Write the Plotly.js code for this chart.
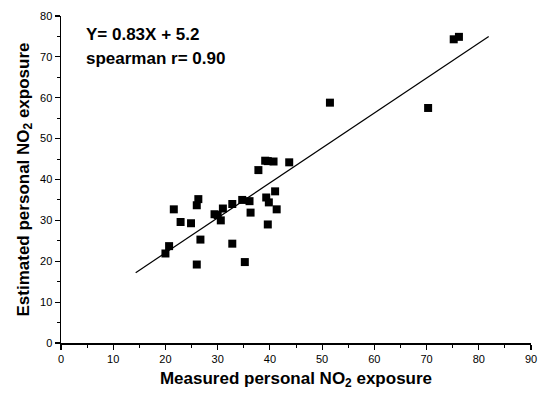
<!DOCTYPE html>
<html>
<head>
<meta charset="utf-8">
<script src="https://cdn.plot.ly/plotly-3.0.1.min.js"></script>
<style>html,body{margin:0;padding:0;background:#fff;}#chart{width:549px;height:394px;}</style>
</head>
<body>
<div id="chart"></div>
<script>
var measured = [20.0, 20.7, 21.6, 22.9, 24.9, 26.0, 26.3, 26.0, 26.7, 29.4, 30.0, 30.6, 31.0, 32.8, 32.8, 34.7, 36.1, 36.3, 35.2, 37.8, 39.1, 39.6, 40.7, 43.7, 39.3, 39.8, 39.6, 41.0, 41.3, 51.5, 70.3, 75.2, 76.2];
var estimated = [21.9, 23.7, 32.7, 29.6, 29.3, 33.7, 35.2, 19.2, 25.3, 31.5, 31.3, 30.0, 32.9, 34.0, 24.3, 35.0, 34.7, 31.9, 19.8, 42.3, 44.6, 44.5, 44.4, 44.2, 35.6, 34.4, 29.0, 37.1, 32.7, 58.8, 57.5, 74.3, 74.9];
var fitX = [14.3, 81.9];
var fitY = [17.2, 75.0];
var xTicks = [0, 10, 20, 30, 40, 50, 60, 70, 80, 90];
var yTicks = [0, 10, 20, 30, 40, 50, 60, 70, 80];
var eqText = 'Y= 0.83X + 5.2';
var rText = 'spearman r= 0.90';

var font = 'Liberation Sans, Arial, sans-serif';
var data = [
  {x: fitX, y: fitY, mode: 'lines', type: 'scatter', line: {color: '#000', width: 1.2}, hoverinfo: 'skip'},
  {x: measured, y: estimated, mode: 'markers', type: 'scatter',
   marker: {symbol: 'square', size: 8, color: '#000', line: {width: 0}}}
];
var axisCommon = {
  showline: true, linecolor: '#000', linewidth: 1.5, mirror: false,
  showgrid: false, zeroline: false, ticks: 'outside', ticklen: 5, tickwidth: 1.2, tickcolor: '#000',
  tickfont: {family: font, size: 11, color: '#000'},
  minor: {ticks: 'outside', ticklen: 3, tickwidth: 1, tickcolor: '#000', dtick: 5, showgrid: false}
};
var layout = {
  width: 549, height: 394,
  margin: {l: 61, r: 18, t: 16, b: 51},
  paper_bgcolor: '#fff', plot_bgcolor: '#fff',
  showlegend: false,
  xaxis: Object.assign({}, axisCommon, {
    range: [0, 90], tickvals: xTicks, ticktext: xTicks.map(String),
    title: {text: 'Measured personal NO<sub>2</sub> exposure', font: {family: font, size: 17, color: '#000', weight: 'bold'}, standoff: 8}
  }),
  yaxis: Object.assign({}, axisCommon, {
    range: [0, 80], tickvals: yTicks, ticktext: yTicks.map(String),
    title: {text: 'Estimated personal NO<sub>2</sub> exposure', font: {family: font, size: 17, color: '#000', weight: 'bold'}, standoff: 6}
  }),
  annotations: [
    {xref: 'paper', yref: 'paper', x: 0.049, y: (343 - 34) / 327, xanchor: 'left', yanchor: 'middle', showarrow: false,
     text: '<b>' + eqText + '</b>', font: {family: font, size: 17, color: '#000'}},
    {xref: 'paper', yref: 'paper', x: 0.049, y: (343 - 58) / 327, xanchor: 'left', yanchor: 'middle', showarrow: false,
     text: '<b>' + rText + '</b>', font: {family: font, size: 17, color: '#000'}}
  ]
};
Plotly.newPlot('chart', data, layout, {displayModeBar: false, staticPlot: true});
</script>
</body>
</html>
